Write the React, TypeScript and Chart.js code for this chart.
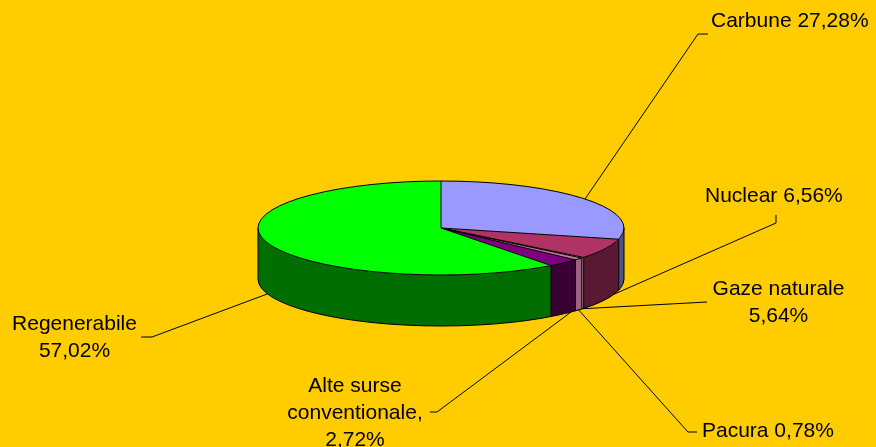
import React, { useEffect, useRef } from 'react';
import { Chart, registerables } from 'chart.js';

Chart.register(...registerables);

// ---- data ----
const categories = ['Carbune', 'Nuclear', 'Gaze naturale', 'Pacura', 'Alte surse conventionale', 'Regenerabile'];
// percentages printed in the data labels
const labelPercents = [27.28, 6.56, 5.64, 0.78, 2.72, 57.02];
// slice sizes as drawn in the picture (the gas slice is rendered as a sliver)
const sliceValues = [27.28, 6.56, 0.25, 0.78, 2.72, 57.02];

// ---- styles ----
const BG = '#FFCC00';
const topColors = ['#9999FF', '#B03366', '#F2D9C0', '#C8789E', '#7F007F', '#00FF00'];
const wallColors = ['#50508C', '#5A1833', '#9C7A80', '#A0607F', '#3A0033', '#006E00'];
const K = 47 / 183;
const DEPTH = 51;
const FONT = '21px "Liberation Sans", Arial, Helvetica, sans-serif';
const LINE_H = 27;

const fmt = (v: number) => v.toFixed(2).replace('.', ',') + '%';
const labelLines: string[][] = [
  [`${categories[0]} ${fmt(labelPercents[0])}`],
  [`${categories[1]} ${fmt(labelPercents[1])}`],
  [categories[2], fmt(labelPercents[2])],
  [`${categories[3]} ${fmt(labelPercents[3])}`],
  ['Alte surse', 'conventionale,', fmt(labelPercents[4])],
  [categories[5], fmt(labelPercents[5])],
];

// label layout: anchor fraction within slice, edge (0 top rim, 1 bottom rim), leader path, text pos
const labelLayout: { frac: number; edge: number; path: number[][]; x: number; y: number; align: CanvasTextAlign }[] = [
  { frac: 0.5, edge: 0, path: [[698, 34], [708, 34]], x: 711, y: 27, align: 'left' },
  { frac: 0.2, edge: 1, path: [[776, 223], [776, 215]], x: 705, y: 202, align: 'left' },
  { frac: 0.5, edge: 1, path: [[707, 302]], x: 778.5, y: 295, align: 'center' },
  { frac: 0.5, edge: 1, path: [[688, 432], [697, 432]], x: 702, y: 437, align: 'left' },
  { frac: 0.2, edge: 1, path: [[437, 412], [430, 412]], x: 355, y: 392, align: 'center' },
  { frac: 0.5, edge: 1, path: [[152, 337], [141, 337]], x: 74.5, y: 330, align: 'center' },
];

function arcGeom(chart: any) {
  const meta = chart.getDatasetMeta(0);
  return meta.data.map((a: any) => a.getProps(['x', 'y', 'startAngle', 'endAngle', 'outerRadius'], true));
}

const bgPlugin = {
  id: 'bg',
  beforeDraw(chart: any) {
    const ctx = chart.ctx;
    ctx.save();
    ctx.fillStyle = BG;
    ctx.fillRect(0, 0, chart.width, chart.height);
    ctx.restore();
  },
};

let saved = false;
const pie3d = {
  id: 'pie3d',
  beforeDatasetsDraw(chart: any) {
    const ctx = chart.ctx;
    const g = arcGeom(chart);
    saved = false;
    if (!g.length) return;
    const { x: cx, y: cy, outerRadius: r } = g[0];
    const ry = r * K;
    g.forEach((a: any, i: number) => {
      const a1 = Math.max(a.startAngle, 0);
      const a2 = Math.min(a.endAngle, Math.PI);
      if (a2 <= a1) return;
      ctx.beginPath();
      ctx.ellipse(cx, cy, r, ry, 0, a1, a2, false);
      ctx.ellipse(cx, cy + DEPTH, r, ry, 0, a2, a1, true);
      ctx.closePath();
      ctx.fillStyle = wallColors[i];
      ctx.fill();
    });
    ctx.save();
    ctx.translate(cx, cy);
    ctx.scale(1, K);
    ctx.translate(-cx, -cy);
    saved = true;
  },
  afterDatasetsDraw(chart: any) {
    const ctx = chart.ctx;
    if (saved) ctx.restore();
    saved = false;
    const g = arcGeom(chart);
    if (!g.length) return;
    const { x: cx, y: cy, outerRadius: r } = g[0];
    const ry = r * K;
    ctx.save();
    ctx.strokeStyle = '#000';
    ctx.lineWidth = 1;
    // rim outlines
    ctx.beginPath();
    ctx.ellipse(cx, cy, r, ry, 0, 0, Math.PI * 2);
    ctx.stroke();
    ctx.beginPath();
    ctx.ellipse(cx, cy + DEPTH, r, ry, 0, 0, Math.PI);
    ctx.stroke();
    ctx.beginPath();
    ctx.moveTo(cx + r, cy);
    ctx.lineTo(cx + r, cy + DEPTH);
    ctx.moveTo(cx - r, cy);
    ctx.lineTo(cx - r, cy + DEPTH);
    ctx.stroke();
    // slice boundaries
    g.forEach((a: any) => {
      const s = a.startAngle;
      const px = cx + r * Math.cos(s);
      const py = cy + ry * Math.sin(s);
      ctx.beginPath();
      ctx.moveTo(cx, cy);
      ctx.lineTo(px, py);
      ctx.stroke();
      const n = ((s % (2 * Math.PI)) + 2 * Math.PI) % (2 * Math.PI);
      if (n > 0 && n < Math.PI) {
        ctx.beginPath();
        ctx.moveTo(px, py);
        ctx.lineTo(px, py + DEPTH);
        ctx.stroke();
      }
    });
    // leader lines + labels
    ctx.font = FONT;
    ctx.fillStyle = '#000';
    ctx.textBaseline = 'alphabetic';
    labelLayout.forEach((L, i) => {
      const a = g[i];
      const ang = a.startAngle + L.frac * (a.endAngle - a.startAngle);
      const ax = cx + r * Math.cos(ang);
      const ay = cy + ry * Math.sin(ang) + (L.edge ? DEPTH : 0);
      ctx.beginPath();
      ctx.moveTo(ax, ay);
      L.path.forEach((p) => ctx.lineTo(p[0], p[1]));
      ctx.stroke();
      ctx.textAlign = L.align;
      labelLines[i].forEach((t, j) => ctx.fillText(t, L.x, L.y + j * LINE_H));
    });
    ctx.restore();
  },
};

export default function App() {
  const ref = useRef<HTMLCanvasElement>(null);
  useEffect(() => {
    document.body.style.margin = '0';
    document.body.style.background = BG;
    const chart = new Chart(ref.current as HTMLCanvasElement, {
      type: 'pie',
      data: {
        labels: categories,
        datasets: [
          {
            data: sliceValues,
            backgroundColor: topColors,
            borderWidth: 0,
            hoverOffset: 0,
            radius: 183,
          } as any,
        ],
      },
      options: {
        responsive: false,
        animation: false,
        events: [],
        layout: { padding: { left: 258, top: 45, right: 252, bottom: 36 } },
        plugins: { legend: { display: false }, tooltip: { enabled: false } },
      },
      plugins: [bgPlugin, pie3d],
    });
    return () => chart.destroy();
  }, []);
  return <canvas ref={ref} width={876} height={447} style={{ display: 'block' }} />;
}
